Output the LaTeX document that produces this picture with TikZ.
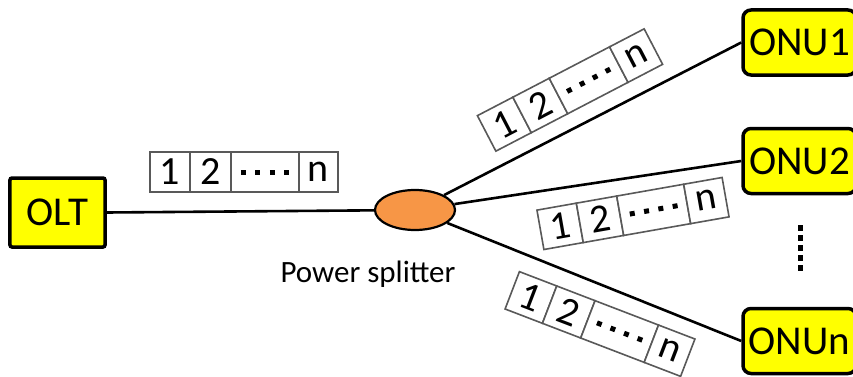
\documentclass[tikz,border=0pt]{standalone}
\usepackage{fontspec}
\setmainfont{Carlito}
\usetikzlibrary{shapes.geometric}
\definecolor{boxyellow}{HTML}{FFFF00}
\definecolor{splitorange}{HTML}{F79646}
\definecolor{cellgray}{HTML}{595959}
\begin{document}
\begin{tikzpicture}[x=1bp,y=1bp,
  unit/.style={draw=black, line width=3.5bp, fill=boxyellow, minimum width=95bp, minimum height=69bp, inner sep=0pt, font=\fontsize{41bp}{48bp}\selectfont},
  onu/.style={unit, rounded corners=8bp, minimum width=113bp, minimum height=65bp},
  cell/.style={draw=cellgray, line width=1.6bp, fill=white, minimum height=40bp, inner sep=0pt, font=\fontsize{40bp}{46bp}\selectfont},
  link/.style={draw=black, line width=2.6bp},
  dotrow/.style={line width=5bp, dash pattern=on 5bp off 9.5bp},
  vdots/.style={line width=5bp, dash pattern=on 5.5bp off 4.5bp}]
\path[use as bounding box] (0,0) rectangle (853,376);
\clip (0,0) rectangle (853,376);

% OLT and splitter
\node[unit, rounded corners=2bp] (olt) at (57.5,163.5) {OLT};
\node[ellipse, draw=black, line width=2.2bp, fill=splitorange, minimum width=80bp, minimum height=40bp, inner sep=0pt] (split) at (415,166) {};
\node[anchor=base, font=\fontsize{31bp}{36bp}\selectfont] (splitlabel) at (368,94) {Power splitter};

% ONUs
\node[onu] (onu1) at (799.5,333.5) {ONU1};
\node[onu] (onu2) at (799.5,215) {ONU2};
\node[onu] (onun) at (799.5,35) {ONUn};
\coordinate (vdtop) at (800,151);
\coordinate (vdbot) at (800,101);
\draw[vdots] (vdtop) -- (vdbot);

% links
\draw[link] (olt.east) -- (split);
\draw[link] (split) -- (onu1.west);
\draw[link] (split) -- (onu2.west);
\draw[link] (split) -- (onun.west);

% packets
\foreach \nm/\cx/\cy/\ang in {pa/244/204/0, pb/570/286/27.5, pc/633/162.5/10, pd/600/52/-21}{
  \begin{scope}[shift={(\cx,\cy)}, rotate=\ang, transform shape]
    \node[cell, minimum width=40bp] (\nm1) at (-74,0) {1};
    \node[cell, minimum width=41bp] (\nm2) at (-33.5,0) {2};
    \node[cell, minimum width=68bp] (\nm3) at (21,0) {};
    \node[cell, minimum width=39bp] (\nm4) at (74.5,0) {n};
    \draw[dotrow] ([xshift=-24.25bp]\nm3.center) -- ([xshift=24.25bp]\nm3.center);
  \end{scope}
}
\end{tikzpicture}
\end{document}
